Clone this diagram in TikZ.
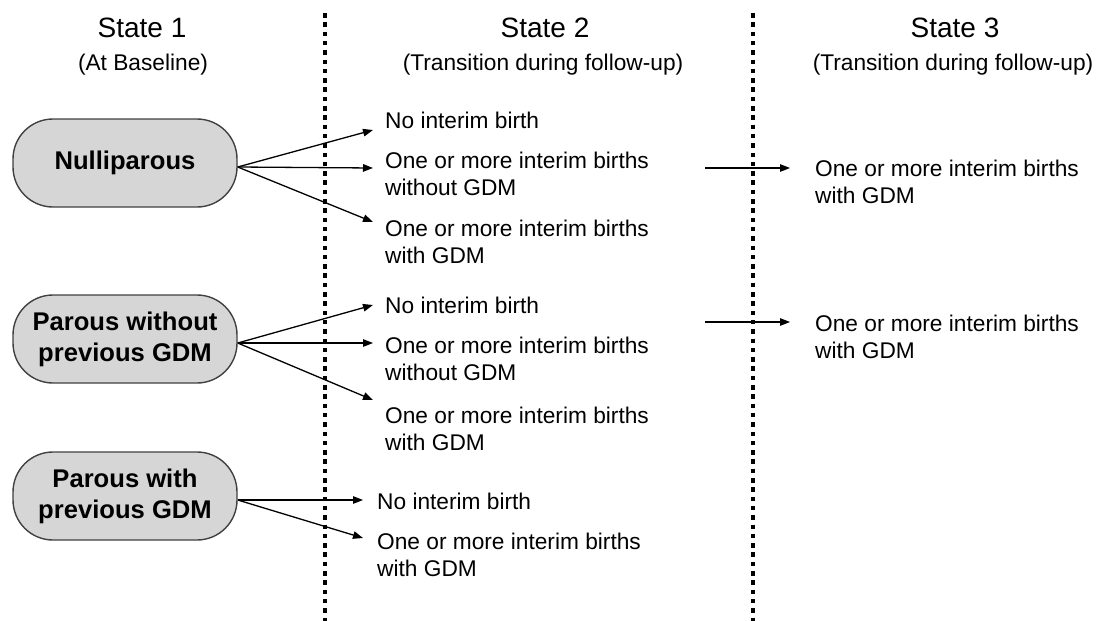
\documentclass[tikz,border=0pt]{standalone}
\usepackage{fontspec}
\setmainfont{Liberation Sans}
\usetikzlibrary{arrows.meta}

\begin{document}
\begin{tikzpicture}[x=1pt, y=1pt,
    baseline box/.style={rectangle, rounded corners=40pt, draw=black!75, line width=1.4pt,
        fill=black!16, minimum width=224pt, minimum height=88pt, align=center,
        font=\fontsize{25.6}{31}\selectfont\bfseries},
    heading/.style={anchor=base, font=\fontsize{28}{33}\selectfont},
    subheading/.style={anchor=base, font=\fontsize{22.7}{27}\selectfont},
    outcome/.style={anchor=north west, inner sep=0pt, align=left,
        font=\fontsize{22.7}{27}\selectfont},
    divider/.style={line width=4.5pt, dash pattern=on 4.5pt off 4.8pt},
    flow/.style={line width=1.3pt, -{Triangle[length=10pt,width=7.5pt]}}]
    \useasboundingbox (0, 0) rectangle (1098, -621);

    % column headings
    \node [heading] at (142, -37) (S1) {State 1};
    \node [subheading] at (143, -70) (T1) {(At Baseline)};
    \node [heading] at (545, -37) (S2) {State 2};
    \node [subheading] at (543, -70) (T2) {(Transition during follow-up)};
    \node [heading] at (955, -37) (S3) {State 3};
    \node [subheading] at (953, -70) (T3) {(Transition during follow-up)};

    % dividers
    \draw [divider] (325, -13) -- (325, -621);
    \draw [divider] (753, -13) -- (753, -621);

    % state 1
    \node [baseline box] at (125, -163) (N) {Nulliparous};
    \node [baseline box] at (125, -339) (P) {Parous without\\previous GDM};
    \node [baseline box] at (125, -496) (G) {Parous with\\previous GDM};

    % state 2
    \node [outcome] at (385, -112) (N1) {No interim birth};
    \node [outcome] at (385, -152) (N2) {One or more interim births\\without GDM};
    \node [outcome] at (385, -220) (N3) {One or more interim births\\with GDM};

    \node [outcome] at (385, -297) (P1) {No interim birth};
    \node [outcome] at (385, -337) (P2) {One or more interim births\\without GDM};
    \node [outcome] at (385, -407) (P3) {One or more interim births\\with GDM};

    \node [outcome] at (377, -493) (G1) {No interim birth};
    \node [outcome] at (377, -533) (G2) {One or more interim births\\with GDM};

    % state 3
    \node [outcome] at (815, -160) (R1) {One or more interim births\\with GDM};
    \node [outcome] at (815, -315) (R2) {One or more interim births\\with GDM};
    \coordinate (from1) at (705, -168);
    \coordinate (from2) at (705, -322);

    \path [flow]
        ([yshift=-4pt]N.east) edge ([xshift=-12pt, yshift=-18pt]N1.north west)
        ([yshift=-4pt]N.east) edge ([xshift=-12pt, yshift=-16pt]N2.north west)
        ([yshift=-4pt]N.east) edge ([xshift=-12pt, yshift=-2pt]N3.north west)
        ([yshift=-4pt]P.east) edge ([xshift=-12pt, yshift=-8pt]P1.north west)
        ([yshift=-4pt]P.east) edge ([xshift=-12pt, yshift=-6pt]P2.north west)
        ([yshift=-4pt]P.east) edge ([xshift=-12pt, yshift=7pt]P3.north west)
        ([yshift=-4pt]G.east) edge ([xshift=-14pt, yshift=-7pt]G1.north west)
        ([yshift=-4pt]G.east) edge ([xshift=-14pt, yshift=-5pt]G2.north west)
        (from1) edge ([xshift=-25pt, yshift=-8pt]R1.north west)
        (from2) edge ([xshift=-25pt, yshift=-7pt]R2.north west);
\end{tikzpicture}
\end{document}
